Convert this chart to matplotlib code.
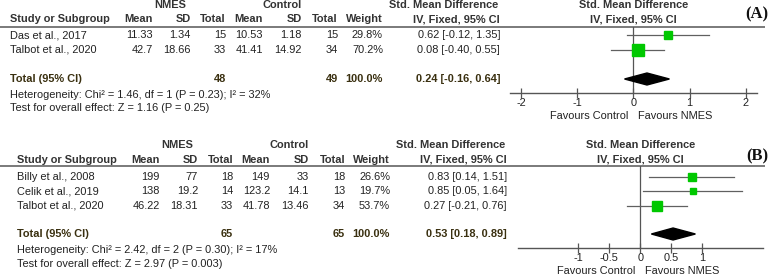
import matplotlib
matplotlib.use("Agg")
import matplotlib.pyplot as plt
import numpy as np

# ---------------- data ----------------
studies_a = ["Das et al., 2017", "Talbot et al., 2020"]
nmes_mean_a = ["11.33", "42.7"]
nmes_sd_a = ["1.34", "18.66"]
nmes_n_a = [15, 33]
ctrl_mean_a = ["10.53", "41.41"]
ctrl_sd_a = ["1.18", "14.92"]
ctrl_n_a = [15, 34]
weight_a = [29.8, 70.2]
smd_a = [0.62, 0.08]
lo_a = [-0.12, -0.40]
hi_a = [1.35, 0.55]
total_a = dict(n1=48, n2=49, smd=0.24, lo=-0.16, hi=0.64)
het_a = "Heterogeneity: Chi² = 1.46, df = 1 (P = 0.23); I² = 32%"
test_a = "Test for overall effect: Z = 1.16 (P = 0.25)"
ticks_a = [-2, -1, 0, 1, 2]

studies_b = ["Billy et al., 2008", "Celik et al., 2019", "Talbot et al., 2020"]
nmes_mean_b = ["199", "138", "46.22"]
nmes_sd_b = ["77", "19.2", "18.31"]
nmes_n_b = [18, 14, 33]
ctrl_mean_b = ["149", "123.2", "41.78"]
ctrl_sd_b = ["33", "14.1", "13.46"]
ctrl_n_b = [18, 13, 34]
weight_b = [26.6, 19.7, 53.7]
smd_b = [0.83, 0.85, 0.27]
lo_b = [0.14, 0.05, -0.21]
hi_b = [1.51, 1.64, 0.76]
total_b = dict(n1=65, n2=65, smd=0.53, lo=0.18, hi=0.89)
het_b = "Heterogeneity: Chi² = 2.42, df = 2 (P = 0.30); I² = 17%"
test_b = "Test for overall effect: Z = 2.97 (P = 0.003)"
ticks_b = [-1, -0.5, 0, 0.5, 1]

# ---------------- layout ----------------
W, H = 774, 276
DPI = 100
fig = plt.figure(figsize=(W / DPI, H / DPI), dpi=DPI)
plt.rcParams['font.family'] = ['Liberation Sans', 'DejaVu Sans']
FS = 7.9
TXT = "#222222"
HDR = "#333333"
TOT = "#3a3010"
GREEN = "#00c800"
LINEC = "#707070"

ax0 = fig.add_axes([0, 0, 1, 1])
ax0.set_xlim(0, W)
ax0.set_ylim(H, 0)
ax0.axis("off")


def fmt_smd(s, l, h):
    return f"{s:.2f} [{l:.2f}, {h:.2f}]"


def panel(label, studies, m1, s1, n1, m2, s2, n2, w, smd, lo, hi, tot, het, test,
          ticks, xlim, dx, y_h1, y_h2, y_line, rows_y, y_tot, y_het, y_test,
          ax_left, ax_right, y_axis, label_y):
    cx = dict(study=10 + dx, m1=153 + dx, s1=191 + dx, n1=226 + dx,
              m2=263 + dx, s2=302 + dx, n2=338 + dx, w=383 + dx, smd=500 + dx)
    kw = dict(fontsize=FS, va="center")
    ax0.text(170 + dx, y_h1, "NMES", ha="center", fontweight="bold", color=HDR, **kw)
    ax0.text(282 + dx, y_h1, "Control", ha="center", fontweight="bold", color=HDR, **kw)
    ax0.text(cx['smd'] - 2, y_h1, "Std. Mean Difference", ha="right", fontweight="bold", color=HDR, **kw)
    ax0.text(cx['study'], y_h2, "Study or Subgroup", ha="left", fontweight="bold", color=HDR, **kw)
    for key, t in [('m1', 'Mean'), ('s1', 'SD'), ('n1', 'Total'), ('m2', 'Mean'),
                   ('s2', 'SD'), ('n2', 'Total'), ('w', 'Weight')]:
        ax0.text(cx[key], y_h2, t, ha="right", fontweight="bold", color=HDR, **kw)
    ax0.text(cx['smd'], y_h2, "IV, Fixed, 95% CI", ha="right", fontweight="bold", color=HDR, **kw)

    fa = fig.add_axes([ax_left / W, 1 - y_axis / H, (ax_right - ax_left) / W, (y_axis - y_line) / H])
    fa.set_xlim(*xlim)
    fa.set_ylim(y_axis, y_line)
    fa.patch.set_alpha(0)
    for sp in ["top", "left", "right"]:
        fa.spines[sp].set_visible(False)
    fa.spines["bottom"].set_color("#555555")
    fa.spines["bottom"].set_linewidth(1.0)
    fa.set_yticks([])
    fa.set_xticks(ticks)
    fa.set_xticklabels([f"{t:g}" for t in ticks], fontsize=FS, color=TXT)
    fa.tick_params(axis="x", direction="inout", length=7, width=0.9, color="#555555", pad=0)
    fa.axvline(0, color="#555555", lw=0.9)

    hdr_center = ax_left + (ax_right - ax_left) * (0 - xlim[0]) / (xlim[1] - xlim[0])
    ax0.text(hdr_center, y_h1, "Std. Mean Difference", ha="center", fontweight="bold", color=HDR, **kw)
    ax0.text(hdr_center, y_h2, "IV, Fixed, 95% CI", ha="center", fontweight="bold", color=HDR, **kw)

    ax0.plot([0, 765], [y_line, y_line], color=LINEC, lw=1.3, solid_capstyle="butt")

    for i, y in enumerate(rows_y):
        ax0.text(cx['study'], y, studies[i], ha="left", color=TXT, **kw)
        ax0.text(cx['m1'], y, m1[i], ha="right", color=TXT, **kw)
        ax0.text(cx['s1'], y, s1[i], ha="right", color=TXT, **kw)
        ax0.text(cx['n1'], y, str(n1[i]), ha="right", color=TXT, **kw)
        ax0.text(cx['m2'], y, m2[i], ha="right", color=TXT, **kw)
        ax0.text(cx['s2'], y, s2[i], ha="right", color=TXT, **kw)
        ax0.text(cx['n2'], y, str(n2[i]), ha="right", color=TXT, **kw)
        ax0.text(cx['w'], y, f"{w[i]:.1f}%", ha="right", color=TXT, **kw)
        ax0.text(cx['smd'], y, fmt_smd(smd[i], lo[i], hi[i]), ha="right", color=TXT, **kw)
        fa.plot([lo[i], hi[i]], [y, y], color="#606060", lw=0.9, zorder=2)
        side_px = 1.4 * np.sqrt(w[i])
        fa.plot([smd[i]], [y], marker="s", ms=side_px * 72 / DPI, color=GREEN,
                mec=GREEN, zorder=3, clip_on=False)

    ax0.text(cx['study'], y_tot, "Total (95% CI)", ha="left", fontweight="bold", color=TOT, **kw)
    ax0.text(cx['n1'], y_tot, str(tot['n1']), ha="right", fontweight="bold", color=TOT, **kw)
    ax0.text(cx['n2'], y_tot, str(tot['n2']), ha="right", fontweight="bold", color=TOT, **kw)
    ax0.text(cx['w'], y_tot, "100.0%", ha="right", fontweight="bold", color=TOT, **kw)
    ax0.text(cx['smd'], y_tot, fmt_smd(tot['smd'], tot['lo'], tot['hi']), ha="right",
             fontweight="bold", color=TOT, **kw)
    dh = 6
    fa.fill([tot['lo'], tot['smd'], tot['hi'], tot['smd']],
            [y_tot, y_tot - dh, y_tot, y_tot + dh], color="black", zorder=3)

    ax0.text(cx['study'], y_het, het, ha="left", color=TXT, **kw)
    ax0.text(cx['study'], y_test, test, ha="left", color=TXT, **kw)

    y_fav = y_axis + 23
    ax0.text(hdr_center - 5, y_fav, "Favours Control", ha="right", color=TXT, **kw)
    ax0.text(hdr_center + 5, y_fav, "Favours NMES", ha="left", color=TXT, **kw)

    ax0.text(768, label_y, label, ha="right", va="center", fontsize=12, fontweight="bold",
             family="Liberation Serif", color="#111111")


panel("(A)", studies_a, nmes_mean_a, nmes_sd_a, nmes_n_a, ctrl_mean_a, ctrl_sd_a, ctrl_n_a,
      weight_a, smd_a, lo_a, hi_a, total_a, het_a, test_a, ticks_a, (-2.2, 2.2), 0,
      y_h1=5, y_h2=19, y_line=27, rows_y=[35, 50], y_tot=79, y_het=95, y_test=108,
      ax_left=510, ax_right=757, y_axis=93, label_y=14)

panel("(B)", studies_b, nmes_mean_b, nmes_sd_b, nmes_n_b, ctrl_mean_b, ctrl_sd_b, ctrl_n_b,
      weight_b, smd_b, lo_b, hi_b, total_b, het_b, test_b, ticks_b, (-1.97, 1.98), 7,
      y_h1=145, y_h2=160, y_line=166, rows_y=[177, 191, 206], y_tot=234, y_het=250, y_test=264,
      ax_left=518, ax_right=763, y_axis=248, label_y=156)

fig.savefig("out.png", dpi=DPI)
